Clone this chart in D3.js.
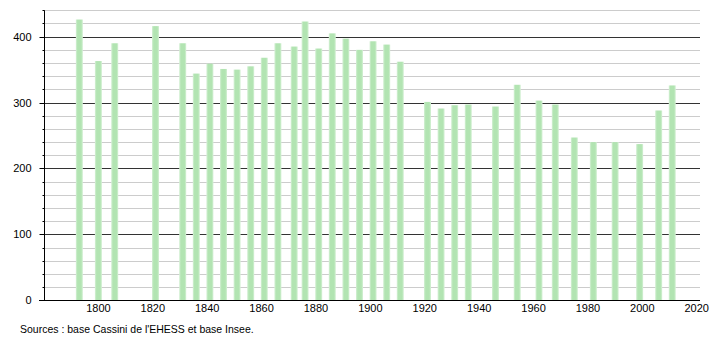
<!DOCTYPE html>
<html><head><meta charset="utf-8">
<script src="https://cdn.jsdelivr.net/npm/d3@7"></script>
<style>body{margin:0;background:#fff}svg{display:block}</style>
</head><body>
<script>
const years = [1793,1800,1806,1821,1831,1836,1841,1846,1851,1856,1861,1866,1872,1876,1881,1886,1891,1896,1901,1906,1911,1921,1926,1931,1936,1946,1954,1962,1968,1975,1982,1990,1999,2006,2011];
const population = [426,363,390,416,390,344,359,351,350,355,368,390,385,423,382,405,397,380,393,388,362,301,291,296,297,294,327,303,297,247,240,240,237,288,326];
const xTicks = [1800,1820,1840,1860,1880,1900,1920,1940,1960,1980,2000,2020];
const yMajor = [0,100,200,300,400];
const sourceText = "Sources : base Cassini de l'EHESS et base Insee.";

const W = 710, H = 340;
const svg = d3.select("body").append("svg").attr("width", W).attr("height", H);
const defs = svg.append("defs");
const g = defs.append("linearGradient").attr("id","barg").attr("x1","0").attr("x2","1").attr("y1","0").attr("y2","0");
g.append("stop").attr("offset","0").attr("stop-color","#d6f1d6");
g.append("stop").attr("offset","0.25").attr("stop-color","#b2e4b2");
g.append("stop").attr("offset","0.75").attr("stop-color","#b2e4b2");
g.append("stop").attr("offset","1").attr("stop-color","#d6f1d6");

const x = d3.scaleLinear().domain([1780, 2021.2]).range([44, 700]);
const y = d3.scaleLinear().domain([0, 440]).range([300.3, 10.3]);

const minor = d3.range(0, 441, 20).filter(v => v % 100 !== 0);
// minor gridlines
svg.append("g").selectAll("line").data(minor).join("line")
  .attr("x1", 44).attr("x2", 700)
  .attr("y1", d => Math.round(y(d)) + 0.5).attr("y2", d => Math.round(y(d)) + 0.5)
  .attr("stroke", "#cccccc").attr("stroke-width", 1);
// major gridlines
svg.append("g").selectAll("line").data(yMajor.filter(v => v > 0)).join("line")
  .attr("x1", 44).attr("x2", 700)
  .attr("y1", d => Math.round(y(d)) + 0.5).attr("y2", d => Math.round(y(d)) + 0.5)
  .attr("stroke", "#333333").attr("stroke-width", 1);

// bars
const bw = 7;
svg.append("g").selectAll("rect").data(years).join("rect")
  .attr("x", (d) => x(d) - bw/2)
  .attr("width", bw)
  .attr("y", (d, i) => y(population[i]))
  .attr("height", (d, i) => y(0) - y(population[i]))
  .attr("fill", "url(#barg)");

// y axis
const yAxis = svg.append("g").attr("transform", "translate(44.5,0)");
yAxis.append("line").attr("x1",0).attr("x2",0).attr("y1", y(440)).attr("y2", y(0)).attr("stroke","#000");
yAxis.selectAll("line.mn").data(minor).join("line").attr("class","mn")
  .attr("x1", -2).attr("x2", 0)
  .attr("y1", d => Math.round(y(d)) + 0.5).attr("y2", d => Math.round(y(d)) + 0.5).attr("stroke","#000");
yAxis.selectAll("line.mj").data(yMajor).join("line").attr("class","mj")
  .attr("x1", -5).attr("x2", 0)
  .attr("y1", d => Math.round(y(d)) + 0.5).attr("y2", d => Math.round(y(d)) + 0.5).attr("stroke","#000");
yAxis.selectAll("text").data(yMajor).join("text")
  .attr("x", -13).attr("y", d => y(d) + 4)
  .attr("text-anchor","end")
  .attr("font-family","Liberation Sans, Arial, sans-serif").attr("font-size", 11)
  .attr("fill","#000").text(d => d);

// x axis line
svg.append("line").attr("x1", 39).attr("x2", 700).attr("y1", Math.round(y(0)) + 0.5).attr("y2", Math.round(y(0)) + 0.5).attr("stroke","#000");
svg.append("g").selectAll("text").data(xTicks).join("text")
  .attr("x", d => x(d)).attr("y", 312)
  .attr("text-anchor","middle")
  .attr("font-family","Liberation Sans, Arial, sans-serif").attr("font-size", 11)
  .attr("fill","#000").text(d => d);

svg.append("text").attr("x", 20).attr("y", 333)
  .attr("font-family","Liberation Sans, Arial, sans-serif").attr("font-size", 10.5)
  .attr("fill","#000").text(sourceText);
</script>
</body></html>
